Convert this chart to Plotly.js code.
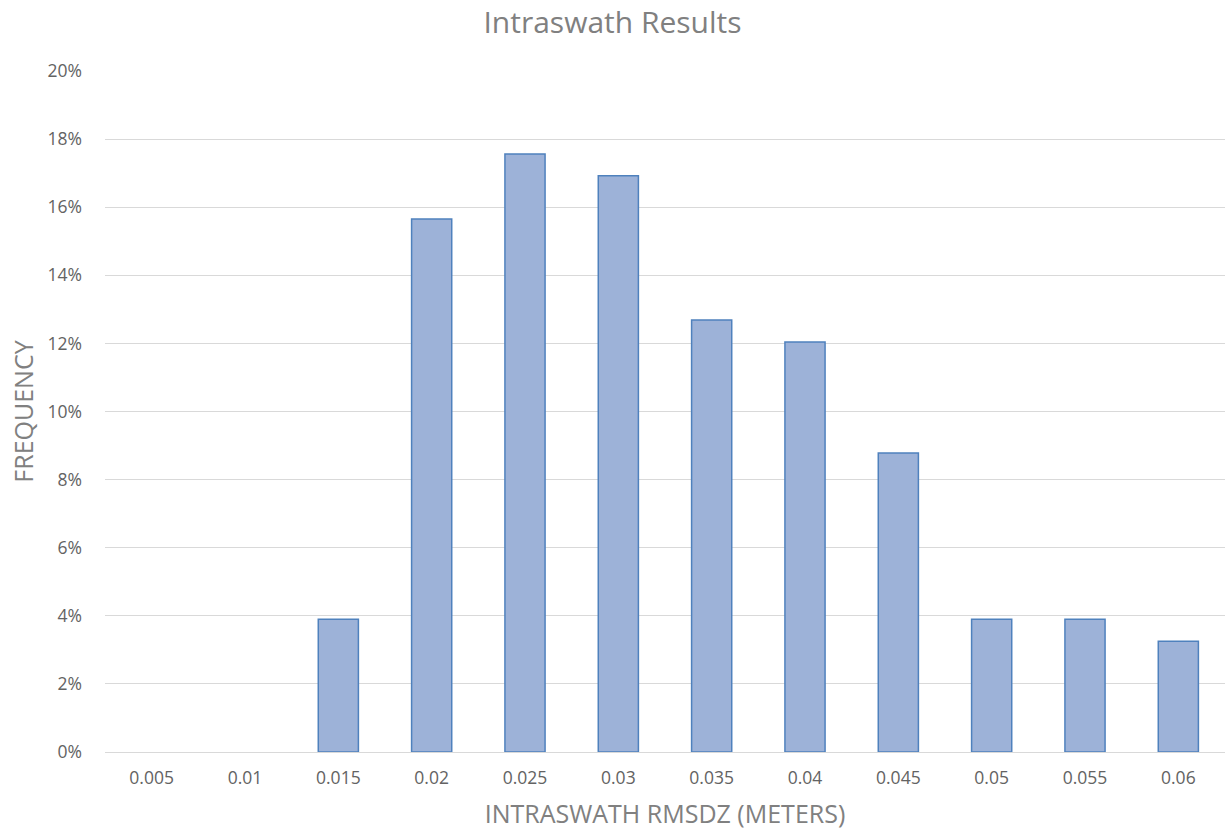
<!DOCTYPE html>
<html>
<head>
<meta charset="utf-8">
<script src="https://cdn.plot.ly/plotly-3.0.1.min.js"></script>
<style>html,body{margin:0;padding:0;background:#fff;}#chart{width:1225px;height:832px;}</style>
</head>
<body>
<div id="chart"></div>
<script>
const categories = ["0.005","0.01","0.015","0.02","0.025","0.03","0.035","0.04","0.045","0.05","0.055","0.06"];
const frequency = [0, 0, 3.9, 15.65, 17.56, 16.92, 12.69, 12.04, 8.78, 3.9, 3.9, 3.25];
const yTicks = [0,2,4,6,8,10,12,14,16,18,20];
const yTickLabels = yTicks.map(v => v + "%");

const font = "'Open Sans', 'DejaVu Sans', sans-serif";

Plotly.newPlot("chart", [{
  type: "bar",
  x: categories,
  y: frequency,
  marker: {color: "#9db2d8", line: {color: "#4f81bd", width: frequency.map(v => v > 0 ? 1.5 : 0)}},
  hoverinfo: "x+y"
}], {
  width: 1225, height: 832,
  margin: {l: 105, r: 0, t: 71, b: 80},
  paper_bgcolor: "#ffffff",
  plot_bgcolor: "#ffffff",
  bargap: 0.57,
  showlegend: false,
  title: {text: "Intraswath Results", font: {family: font, size: 30, color: "#808080"}, x: 0.5, xanchor: "center", y: 0.973, yanchor: "middle"},
  xaxis: {
    type: "category",
    tickfont: {family: font, size: 17.5, color: "#636363"},
    showgrid: false,
    showline: true, linecolor: "#d9d9d9", linewidth: 1,
    ticks: "", ticklabelstandoff: 10,
    title: {text: "INTRASWATH RMSDZ (METERS)", font: {family: font, size: 25, color: "#808080"}, standoff: 17}
  },
  yaxis: {
    range: [0, 20],
    tickvals: yTicks, ticktext: yTickLabels,
    tickfont: {family: font, size: 17.5, color: "#636363"},
    showgrid: true, gridcolor: "#d9d9d9", gridwidth: 1,
    zeroline: false, showline: false, ticks: "", ticklabelstandoff: 22,
    title: {text: "FREQUENCY", font: {family: font, size: 25, color: "#808080"}, standoff: 6}
  }
}, {displayModeBar: false, staticPlot: true});
</script>
</body>
</html>
